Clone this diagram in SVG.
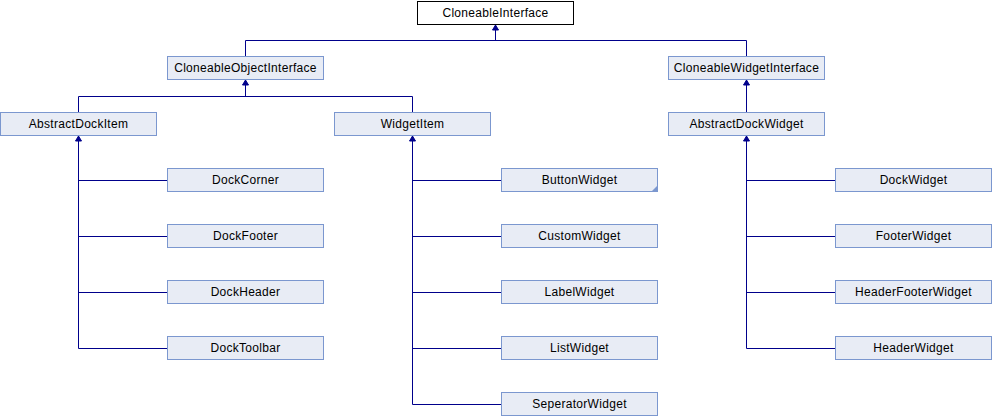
<svg xmlns="http://www.w3.org/2000/svg" width="992" height="416" viewBox="0 0 992 416">
<defs>
<style>
.n rect{fill:#e8ecf5;stroke:#7b97cf;stroke-width:1}
.n text{font-family:"Liberation Sans",Arial,sans-serif;font-size:12px;letter-spacing:0.3px;fill:#000;text-anchor:middle}
.root rect{fill:#fff;stroke:#000}
.c path{fill:none;stroke:#00008b;stroke-width:1}
.c polygon{fill:#00008b;stroke:#00008b;stroke-width:1}
</style>
</defs>
<rect width="992" height="416" fill="#fff"/>
<g id="connectors" class="c">
<path d="M495.5 24V40.5M245.5 40.5H746.5M245.5 40.5V56M746.5 40.5V56"/>
<polygon points="495.5,25 492.5,30 498.5,30"/>
<path d="M245.5 79V96.5M78.5 96.5H412.5M78.5 96.5V112M412.5 96.5V112"/>
<polygon points="245.5,80 242.5,85 248.5,85"/>
<path d="M746.5 79V112"/>
<polygon points="746.5,80 743.5,85 749.5,85"/>
<path d="M78.5 135V348.5M78.5 180.5H167M78.5 236.5H167M78.5 292.5H167M78.5 348.5H167"/>
<polygon points="78.5,136 75.5,141 81.5,141"/>
<path d="M412.5 135V404.5M412.5 180.5H501M412.5 236.5H501M412.5 292.5H501M412.5 348.5H501M412.5 404.5H501"/>
<polygon points="412.5,136 409.5,141 415.5,141"/>
<path d="M746.5 135V348.5M746.5 180.5H835M746.5 236.5H835M746.5 292.5H835M746.5 348.5H835"/>
<polygon points="746.5,136 743.5,141 749.5,141"/>
</g>
<g id="CloneableInterface" class="n root"><rect x="417.5" y="1.5" width="156" height="23"/><text x="495.5" y="17">CloneableInterface</text></g>
<g id="CloneableObjectInterface" class="n"><rect x="167.5" y="56.5" width="156" height="23"/><text x="245.5" y="72">CloneableObjectInterface</text></g>
<g id="CloneableWidgetInterface" class="n"><rect x="668.5" y="56.5" width="156" height="23"/><text x="746.5" y="72">CloneableWidgetInterface</text></g>
<g id="AbstractDockItem" class="n"><rect x="0.5" y="112.5" width="156" height="23"/><text x="78.5" y="128">AbstractDockItem</text></g>
<g id="WidgetItem" class="n"><rect x="334.5" y="112.5" width="156" height="23"/><text x="412.5" y="128">WidgetItem</text></g>
<g id="AbstractDockWidget" class="n"><rect x="668.5" y="112.5" width="156" height="23"/><text x="746.5" y="128">AbstractDockWidget</text></g>
<g id="DockCorner" class="n"><rect x="167.5" y="168.5" width="156" height="23"/><text x="245.5" y="184">DockCorner</text></g>
<g id="DockFooter" class="n"><rect x="167.5" y="224.5" width="156" height="23"/><text x="245.5" y="240">DockFooter</text></g>
<g id="DockHeader" class="n"><rect x="167.5" y="280.5" width="156" height="23"/><text x="245.5" y="296">DockHeader</text></g>
<g id="DockToolbar" class="n"><rect x="167.5" y="336.5" width="156" height="23"/><text x="245.5" y="352">DockToolbar</text></g>
<g id="ButtonWidget" class="n"><rect x="501.5" y="168.5" width="156" height="23"/><polygon points="657,186 657,191 652,191" fill="#7b97cf"/><text x="579.5" y="184">ButtonWidget</text></g>
<g id="CustomWidget" class="n"><rect x="501.5" y="224.5" width="156" height="23"/><text x="579.5" y="240">CustomWidget</text></g>
<g id="LabelWidget" class="n"><rect x="501.5" y="280.5" width="156" height="23"/><text x="579.5" y="296">LabelWidget</text></g>
<g id="ListWidget" class="n"><rect x="501.5" y="336.5" width="156" height="23"/><text x="579.5" y="352">ListWidget</text></g>
<g id="SeperatorWidget" class="n"><rect x="501.5" y="392.5" width="156" height="23"/><text x="579.5" y="408">SeperatorWidget</text></g>
<g id="DockWidget" class="n"><rect x="835.5" y="168.5" width="156" height="23"/><text x="913.5" y="184">DockWidget</text></g>
<g id="FooterWidget" class="n"><rect x="835.5" y="224.5" width="156" height="23"/><text x="913.5" y="240">FooterWidget</text></g>
<g id="HeaderFooterWidget" class="n"><rect x="835.5" y="280.5" width="156" height="23"/><text x="913.5" y="296">HeaderFooterWidget</text></g>
<g id="HeaderWidget" class="n"><rect x="835.5" y="336.5" width="156" height="23"/><text x="913.5" y="352">HeaderWidget</text></g>
</svg>
